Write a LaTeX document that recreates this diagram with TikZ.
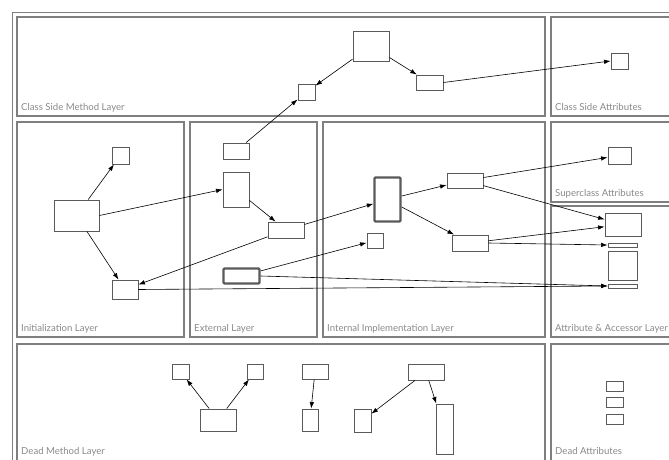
\documentclass[tikz,border=0pt]{standalone}
\usepackage{fontspec}
\setmainfont{Lato}
\usetikzlibrary{arrows.meta}
\definecolor{pgray}{HTML}{7F7F7F}
\definecolor{tgray}{HTML}{8A8A8A}
\definecolor{bgray}{HTML}{5A5A5A}
\newcommand\bxn[5]{\node[bx,minimum width=#4pt,minimum height=#5pt] (#1) at (#2,#3) {};}
\newcommand\tbxn[5]{\node[tbx,minimum width=#4pt,minimum height=#5pt] (#1) at (#2,#3) {};}
\begin{document}
\begin{tikzpicture}[x=1pt,y=-1pt,
  panel/.style={draw=pgray,line width=1.3pt},
  plabel/.style={anchor=base west,inner sep=0pt,text=tgray,font=\fontsize{9.6}{11}\selectfont},
  bx/.style={draw=bgray,line width=0.9pt,fill=white,inner sep=0pt},
  tbx/.style={draw=bgray,line width=2.4pt,fill=white,inner sep=0pt,rounded corners=1pt},
  arr/.style={-{Latex[length=6.5pt,width=4.5pt]},line width=0.6pt,black}]
\useasboundingbox (0,0) rectangle (669,460);
\clip (0,0) rectangle (669,460);
\fill[white] (0,0) rectangle (669,460);
% outer frame
\draw[panel] (12.5,12.5) rectangle (700,480);
% panels
\draw[panel] (17,17) rectangle (545,116);
\draw[panel] (551,17) rectangle (700,116);
\draw[panel] (17,122) rectangle (184,337);
\draw[panel] (190,122) rectangle (317,337);
\draw[panel] (323,122) rectangle (545,337);
\draw[panel] (551,122) rectangle (700,202);
\draw[panel] (551,206) rectangle (700,337);
\draw[panel] (17,344) rectangle (545,460.5);
\draw[panel] (551,344) rectangle (700,460.5);
% labels
\node[plabel] (l1) at (21,110) {Class Side Method Layer};
\node[plabel] (l2) at (555,110) {Class Side Attributes};
\node[plabel] (l3) at (21,331) {Initialization Layer};
\node[plabel] (l4) at (194,331) {External Layer};
\node[plabel] (l5) at (327,331) {Internal Implementation Layer};
\node[plabel] (l6) at (555,196) {Superclass Attributes};
\node[plabel] (l7) at (555,331) {Attribute \& Accessor Layer};
\node[plabel] (l8) at (21,454) {Dead Method Layer};
\node[plabel] (l9) at (555,454) {Dead Attributes};
% class side
\bxn{t1}{371}{46}{36}{30}
\bxn{t2}{429.5}{82.5}{27}{15}
\bxn{t3}{306.5}{92}{17}{16}
\bxn{csa}{619.5}{61}{17}{16}
% init
\bxn{i1}{120.5}{155.5}{17}{17}
\bxn{i2}{76.5}{215.5}{45}{31}
\bxn{i3}{125}{289.5}{26}{19}
% external
\bxn{e1}{236}{151}{26}{16}
\bxn{e2}{236}{189.5}{26}{35}
\bxn{e3}{286}{230}{36}{16}
\tbxn{e4}{241.5}{276}{36}{15}
% internal
\tbxn{n1}{387.5}{199.5}{26}{44}
\bxn{n2}{375}{240.5}{16}{15}
\bxn{n3}{465}{180.5}{36}{15}
\bxn{n4}{470}{243}{36}{16}
% superclass / attributes
\bxn{s1}{619.5}{155.5}{23}{17}
\bxn{a1}{623}{224.5}{36}{23}
\bxn{a2}{622.5}{245}{29}{4}
\bxn{a3}{622.5}{265.5}{29}{29}
\bxn{a4}{622.5}{286}{29}{4}
% dead methods
\bxn{d1}{180.5}{371.5}{17}{15}
\bxn{d2}{255}{371.5}{16}{15}
\bxn{d3}{218}{420}{36}{22}
\bxn{d4}{315}{371.5}{26}{15}
\bxn{d5}{310}{420}{16}{22}
\bxn{d6}{426}{372}{36}{16}
\bxn{d7}{362.5}{420.5}{17}{23}
\bxn{d8}{444.5}{429}{17}{50}
% dead attributes
\bxn{da1}{614.5}{386}{17}{10}
\bxn{da2}{614.5}{402}{17}{10}
\bxn{da3}{614.5}{419}{17}{10}
% connectors
\draw[arr] (t1) -- (t3);
\draw[arr] (t1) -- (t2);
\draw[arr] (t2.east) -- (csa.west);
\draw[arr] (e1) -- (t3);
\draw[arr] (i2) -- (i1);
\draw[arr] (i2) -- (i3);
\draw[arr] (i2.east) -- (e2.west);
\draw[arr] (e2) -- (e3);
\draw[arr] (e3) -- (i3);
\draw[arr] (e3) -- (n1);
\draw[arr] (e4) -- (n2);
\draw[arr] (e4.east) -- (a4.west);
\draw[arr] (i3.east) -- (a4.west);
\draw[arr] (n1) -- (n3);
\draw[arr] (n1) -- (n4);
\draw[arr] (n3) -- (s1);
\draw[arr] (n3) -- (a1);
\draw[arr] (n4) -- (a1);
\draw[arr] (n4.east) -- (a2.west);
\draw[arr] (d3) -- (d1);
\draw[arr] (d3) -- (d2);
\draw[arr] (d4) -- (d5);
\draw[arr] (d6) -- (d7);
\draw[arr] (d6) -- (d8);
\end{tikzpicture}
\end{document}
